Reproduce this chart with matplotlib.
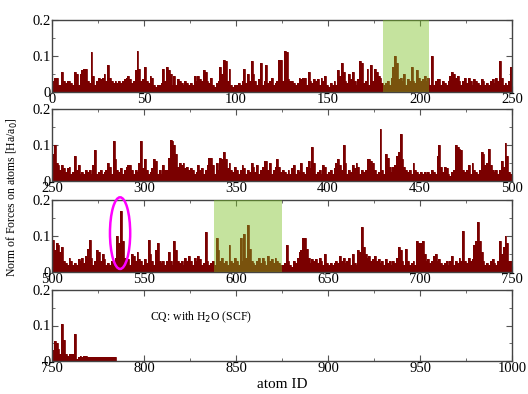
import numpy as np
import matplotlib
matplotlib.use('Agg')
import matplotlib.pyplot as plt
from matplotlib.patches import Ellipse
from matplotlib.ticker import MultipleLocator

plt.rcParams['font.family'] = ['Liberation Serif', 'DejaVu Serif']

# norm of forces [Ha/a0], one value per atom, atoms 0..784
forces_0_249 = [
    0.03, 0.04, 0.04, 0.02, 0.02, 0.055, 0.03, 0.025, 0.03, 0.03, 0.025, 0.02, 0.055, 0.05, 0.02, 0.05, 0.06, 0.065, 0.065, 0.03, 0.025, 0.11, 0.045, 0.02, 0.03,
    0.04, 0.035, 0.04, 0.05, 0.03, 0.075, 0.04, 0.03, 0.025, 0.03, 0.025, 0.03, 0.025, 0.03, 0.035, 0.04, 0.045, 0.035, 0.025, 0.03, 0.06, 0.115, 0.065, 0.03, 0.035,
    0.07, 0.03, 0.025, 0.045, 0.04, 0.02, 0.015, 0.02, 0.02, 0.025, 0.065, 0.03, 0.07, 0.06, 0.05, 0.02, 0.045, 0.02, 0.035, 0.03, 0.025, 0.02, 0.03, 0.025, 0.02,
    0.025, 0.02, 0.045, 0.03, 0.045, 0.035, 0.03, 0.06, 0.055, 0.03, 0.025, 0.04, 0.02, 0.015, 0.025, 0.03, 0.07, 0.05, 0.09, 0.085, 0.03, 0.065, 0.02, 0.015, 0.02,
    0.02, 0.025, 0.02, 0.03, 0.065, 0.025, 0.05, 0.03, 0.085, 0.05, 0.03, 0.02, 0.035, 0.08, 0.02, 0.03, 0.075, 0.025, 0.03, 0.04, 0.02, 0.025, 0.03, 0.09, 0.09,
    0.03, 0.115, 0.11, 0.035, 0.03, 0.03, 0.025, 0.02, 0.025, 0.04, 0.035, 0.04, 0.04, 0.02, 0.055, 0.03, 0.025, 0.035, 0.03, 0.035, 0.02, 0.04, 0.03, 0.045, 0.02,
    0.015, 0.025, 0.02, 0.03, 0.02, 0.06, 0.045, 0.08, 0.055, 0.03, 0.025, 0.05, 0.035, 0.055, 0.03, 0.02, 0.035, 0.085, 0.08, 0.025, 0.03, 0.065, 0.02, 0.075, 0.03,
    0.065, 0.055, 0.045, 0.04, 0.025, 0.02, 0.025, 0.03, 0.02, 0.04, 0.07, 0.1, 0.08, 0.035, 0.04, 0.03, 0.05, 0.02, 0.035, 0.03, 0.07, 0.03, 0.025, 0.06, 0.04,
    0.03, 0.035, 0.045, 0.03, 0.04, 0.02, 0.1, 0.02, 0.03, 0.035, 0.035, 0.02, 0.03, 0.025, 0.02, 0.03, 0.045, 0.055, 0.05, 0.04, 0.045, 0.03, 0.02, 0.03, 0.04,
    0.025, 0.04, 0.03, 0.02, 0.035, 0.03, 0.025, 0.02, 0.035, 0.03, 0.02, 0.025, 0.02, 0.03, 0.035, 0.025, 0.04, 0.03, 0.085, 0.04, 0.02, 0.025, 0.02, 0.03, 0.07,
]
forces_250_499 = [
    0.075, 0.1, 0.05, 0.045, 0.03, 0.045, 0.035, 0.025, 0.035, 0.04, 0.02, 0.025, 0.07, 0.03, 0.045, 0.02, 0.025, 0.02, 0.03, 0.025, 0.03, 0.02, 0.045, 0.085, 0.02,
    0.025, 0.03, 0.02, 0.025, 0.03, 0.05, 0.04, 0.02, 0.11, 0.06, 0.03, 0.025, 0.035, 0.02, 0.03, 0.04, 0.045, 0.045, 0.03, 0.02, 0.03, 0.025, 0.05, 0.11, 0.035,
    0.06, 0.03, 0.02, 0.025, 0.035, 0.06, 0.055, 0.02, 0.03, 0.02, 0.045, 0.03, 0.03, 0.065, 0.115, 0.11, 0.1, 0.075, 0.04, 0.05, 0.045, 0.05, 0.035, 0.04, 0.03,
    0.035, 0.03, 0.02, 0.025, 0.045, 0.03, 0.035, 0.02, 0.03, 0.045, 0.065, 0.065, 0.045, 0.02, 0.05, 0.03, 0.065, 0.06, 0.08, 0.06, 0.035, 0.05, 0.03, 0.025, 0.04,
    0.03, 0.02, 0.03, 0.045, 0.035, 0.02, 0.03, 0.025, 0.05, 0.04, 0.025, 0.045, 0.02, 0.03, 0.04, 0.055, 0.055, 0.03, 0.05, 0.02, 0.03, 0.04, 0.06, 0.04, 0.025,
    0.03, 0.025, 0.02, 0.03, 0.02, 0.035, 0.045, 0.02, 0.03, 0.025, 0.05, 0.025, 0.02, 0.04, 0.055, 0.035, 0.095, 0.05, 0.02, 0.025, 0.03, 0.02, 0.045, 0.04, 0.02,
    0.025, 0.03, 0.02, 0.035, 0.05, 0.06, 0.045, 0.03, 0.1, 0.05, 0.02, 0.03, 0.025, 0.045, 0.035, 0.05, 0.04, 0.02, 0.03, 0.025, 0.03, 0.06, 0.06, 0.055, 0.05,
    0.03, 0.02, 0.025, 0.145, 0.03, 0.02, 0.075, 0.065, 0.04, 0.025, 0.04, 0.045, 0.07, 0.08, 0.13, 0.06, 0.04, 0.03, 0.025, 0.03, 0.02, 0.05, 0.03, 0.025, 0.02,
    0.025, 0.02, 0.025, 0.02, 0.025, 0.02, 0.03, 0.025, 0.02, 0.07, 0.1, 0.04, 0.025, 0.04, 0.035, 0.02, 0.015, 0.025, 0.03, 0.1, 0.095, 0.09, 0.085, 0.03, 0.025,
    0.03, 0.045, 0.02, 0.05, 0.03, 0.025, 0.02, 0.03, 0.08, 0.075, 0.045, 0.05, 0.09, 0.045, 0.03, 0.025, 0.03, 0.02, 0.03, 0.055, 0.04, 0.105, 0.07, 0.025, 0.02,
]
forces_500_749 = [
    0.09, 0.06, 0.08, 0.075, 0.055, 0.07, 0.03, 0.025, 0.02, 0.04, 0.03, 0.02, 0.025, 0.02, 0.035, 0.03, 0.04, 0.025, 0.045, 0.065, 0.09, 0.04, 0.02, 0.03, 0.06,
    0.055, 0.03, 0.05, 0.035, 0.02, 0.025, 0.02, 0.03, 0.025, 0.04, 0.1, 0.08, 0.17, 0.085, 0.04, 0.03, 0.035, 0.02, 0.05, 0.045, 0.03, 0.055, 0.035, 0.03, 0.02,
    0.035, 0.025, 0.09, 0.05, 0.03, 0.02, 0.06, 0.08, 0.03, 0.025, 0.03, 0.02, 0.03, 0.055, 0.03, 0.02, 0.085, 0.06, 0.03, 0.025, 0.03, 0.02, 0.04, 0.03, 0.045,
    0.03, 0.02, 0.04, 0.03, 0.045, 0.035, 0.02, 0.025, 0.11, 0.03, 0.02, 0.025, 0.03, 0.02, 0.095, 0.06, 0.03, 0.04, 0.025, 0.03, 0.02, 0.075, 0.03, 0.025, 0.04,
    0.03, 0.02, 0.095, 0.03, 0.105, 0.04, 0.13, 0.065, 0.03, 0.025, 0.02, 0.03, 0.04, 0.025, 0.04, 0.03, 0.02, 0.045, 0.03, 0.035, 0.025, 0.04, 0.03, 0.025, 0.02,
    0.02, 0.025, 0.075, 0.03, 0.02, 0.015, 0.03, 0.025, 0.04, 0.055, 0.06, 0.095, 0.095, 0.065, 0.04, 0.025, 0.035, 0.03, 0.035, 0.025, 0.04, 0.03, 0.02, 0.05, 0.025,
    0.02, 0.025, 0.02, 0.025, 0.03, 0.025, 0.045, 0.03, 0.04, 0.025, 0.03, 0.04, 0.02, 0.05, 0.025, 0.02, 0.06, 0.055, 0.125, 0.07, 0.05, 0.04, 0.045, 0.03, 0.035,
    0.045, 0.03, 0.035, 0.025, 0.03, 0.02, 0.035, 0.025, 0.03, 0.02, 0.03, 0.025, 0.04, 0.07, 0.06, 0.03, 0.02, 0.065, 0.03, 0.02, 0.025, 0.03, 0.02, 0.085, 0.08,
    0.08, 0.085, 0.05, 0.03, 0.035, 0.025, 0.03, 0.045, 0.05, 0.03, 0.035, 0.025, 0.02, 0.025, 0.03, 0.02, 0.03, 0.045, 0.02, 0.03, 0.025, 0.04, 0.03, 0.115, 0.03,
    0.025, 0.04, 0.03, 0.035, 0.075, 0.085, 0.14, 0.085, 0.055, 0.03, 0.02, 0.025, 0.02, 0.03, 0.035, 0.025, 0.02, 0.03, 0.085, 0.05, 0.07, 0.1, 0.08, 0.03, 0.03,
]
forces_750_784 = [
    0.03, 0.055, 0.05, 0.035, 0.02, 0.105, 0.06, 0.02, 0.015, 0.02, 0.02, 0.02, 0.075, 0.005, 0.01, 0.015, 0.01, 0.015, 0.015, 0.01,
    0.01, 0.012, 0.01, 0.012, 0.01, 0.01, 0.012, 0.01, 0.012, 0.01, 0.01, 0.012, 0.01, 0.01, 0.01,
]

panel_starts = [0, 250, 500, 750]
highlights = [(180, 205), (588, 625)]   # green boxes (atom ID ranges)
circled = (537, 0.108)                  # magenta ellipse around atom 537
note = 'CQ: with H$_2$O (SCF)'

bar_color = '#7a0000'


def draw_panel(ax, start, vals):
    edges = np.arange(start, start + len(vals) + 1)
    ax.stairs(vals, edges, fill=True, color=bar_color, lw=0, zorder=2)
    ax.stairs(vals, edges, color=bar_color, lw=0.6, zorder=2)
    for a, b in highlights:
        if start <= a < start + 250:
            ax.axvspan(a, b, color='#79c020', alpha=0.43, lw=0, zorder=3)
    ax.set_xlim(start, start + 250)
    ax.set_ylim(0, 0.2)
    ax.set_yticks([0, 0.1, 0.2])
    ax.set_yticklabels(['0', '0.1', '0.2'])
    ax.xaxis.set_major_locator(MultipleLocator(50))
    ax.xaxis.set_minor_locator(MultipleLocator(25))
    ax.yaxis.set_minor_locator(MultipleLocator(0.05))
    ax.tick_params(which='both', direction='in', top=True, right=True,
                   labelsize=10.5, pad=1, color='#555555')
    ax.tick_params(which='major', length=4)
    ax.tick_params(which='minor', length=2.5)
    for s in ax.spines.values():
        s.set_color('#444444')
        s.set_linewidth(1.0)


fig = plt.figure(figsize=(5.28, 3.94), dpi=100)
tops = [20, 109, 200, 290]
bottoms = [92, 181, 272, 361]
data = [forces_0_249, forces_250_499, forces_500_749, forces_750_784]
axes = []
for start, vals, t, b in zip(panel_starts, data, tops, bottoms):
    ax = fig.add_axes([52/528, 1 - b/394, 460/528, (b - t)/394])
    draw_panel(ax, start, vals)
    axes.append(ax)

ell = Ellipse(circled, width=11, height=0.199, fill=False, edgecolor='#ff00ff',
              lw=1.8, zorder=4, clip_on=False)
axes[2].add_patch(ell)

axes[3].text(803, 0.124, note, fontsize=8.5, va='center', ha='left')
axes[3].set_xlabel('atom ID', fontsize=11, labelpad=2)

fig.text(0.024, 0.5, 'Norm of Forces on atoms [Ha/a$_0$]', rotation=90,
         fontsize=8.5, va='center', ha='center')

fig.savefig('out.png', dpi=100)
